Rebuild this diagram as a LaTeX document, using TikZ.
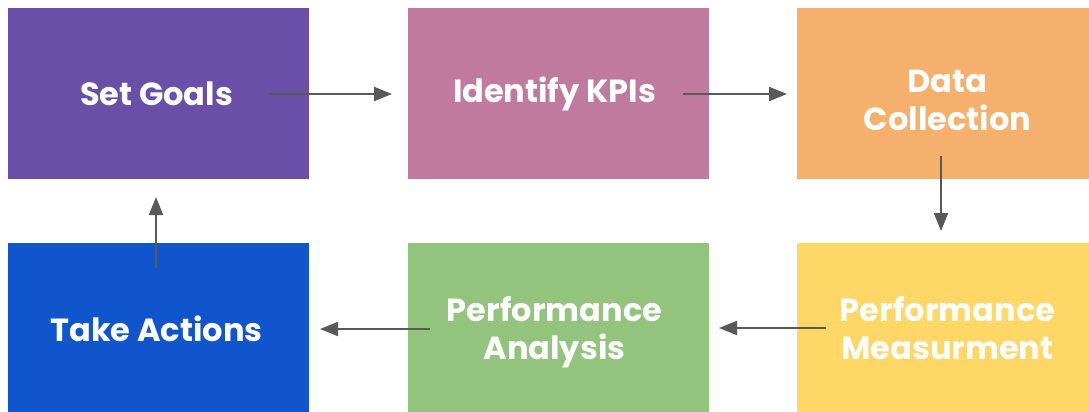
\documentclass[tikz,border=0pt]{standalone}
\usepackage{fontspec}
\setmainfont{Poppins}
\usetikzlibrary{arrows.meta}
\definecolor{cGoals}{HTML}{6A4FA8}
\definecolor{cKPI}{HTML}{C07A9E}
\definecolor{cData}{HTML}{F5B06E}
\definecolor{cMeas}{HTML}{FED766}
\definecolor{cAnal}{HTML}{93C47D}
\definecolor{cAct}{HTML}{1155CC}
\definecolor{cArrow}{HTML}{595959}
% two centred lines, moved down by #1 while the box keeps its size
\newcommand{\twolines}[3]{\raisebox{-#1}[\height][\depth]{\begin{tabular}{@{}c@{}}#2\\#3\end{tabular}}}
\tikzset{
  stage/.style={draw=none, fill=#1, text=white, minimum width=301pt, minimum height=171pt,
    inner sep=0pt, align=center, font=\fontsize{32}{38}\selectfont\bfseries},
  flow/.style={draw=cArrow, line width=2pt, -{Triangle[length=18pt,width=14pt]}}
}
\begin{document}
\begin{tikzpicture}[x=1pt,y=-1pt]
\useasboundingbox (0,0) rectangle (1089,412);
\clip (0,0) rectangle (1089,412);
% process stages
\node[stage=cGoals] (goals) at (158.5,93.5) {\hspace*{-4pt}Set Goals};
\node[stage=cKPI]   (kpi)   at (558.5,93.5) {\hspace*{-8pt}Identify KPIs};
\node[stage=cData]  (data)  at (947.5,93.5) {\twolines{10.5pt}{Data}{Collection}};
\node[stage=cMeas]  (meas)  at (947.5,328.5) {Performance\\Measurment};
\node[stage=cAnal]  (anal)  at (558.5,328.5) {\hspace*{-8pt}\twolines{4pt}{Performance}{Analysis}};
\node[stage=cAct]   (act)   at (158.5,328.5) {\hspace*{-4pt}Take Actions};
% arrow end points
\coordinate (a1s) at (270,94);  \coordinate (a1e) at (392,94);
\coordinate (a2s) at (683,94);  \coordinate (a2e) at (787,94);
\coordinate (a3s) at (941,156); \coordinate (a3e) at (941,231);
\coordinate (a4s) at (826,328); \coordinate (a4e) at (719,328);
\coordinate (a5s) at (430,329); \coordinate (a5e) at (320,329);
\coordinate (a6s) at (156,268); \coordinate (a6e) at (156,197);
% connectors
\draw[flow] (a1s) -- (a1e);
\draw[flow] (a2s) -- (a2e);
\draw[flow] (a3s) -- (a3e);
\draw[flow] (a4s) -- (a4e);
\draw[flow] (a5s) -- (a5e);
\draw[flow] (a6s) -- (a6e);
\end{tikzpicture}
\end{document}
